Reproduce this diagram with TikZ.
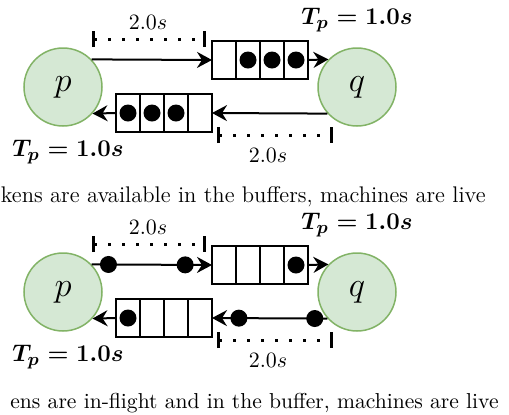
\documentclass[tikz,border=0pt]{standalone}
\usepackage{tikz}
\usetikzlibrary{shapes,arrows.meta,positioning,fit,backgrounds}
\usepackage{xcolor}
\usepackage{amsmath}
\usepackage{amssymb}
\definecolor{machinefill}{RGB}{213,232,212}
\definecolor{machineline}{RGB}{130,179,102}

\begin{document}
\begin{tikzpicture}[
    x=0.5pt, y=-0.5pt,
    machine/.style={circle, draw=machineline, fill=machinefill, line width=0.75pt, minimum size=39pt, inner sep=0pt, font=\fontsize{16}{18}\selectfont},
    cell/.style={rectangle, draw, line width=1pt, minimum width=12pt, minimum height=19pt, inner sep=0pt, outer sep=0pt},
    token/.style={circle, fill=black, minimum size=8.5pt, inner sep=0pt},
    arrow/.style={-{Stealth[length=7.5pt, width=8pt, inset=2.5pt]}, line width=1pt},
    span/.style={{Bar[width=8pt]}-{Bar[width=8pt]}, line width=1.5pt, dash pattern=on 1.5pt off 5.5pt},
    delay/.style={font=\fontsize{11}{13}\selectfont},
    period/.style={font=\fontsize{13}{15}\selectfont\boldmath},
    caption/.style={font=\fontsize{10.8}{13}\selectfont, anchor=base east, inner sep=0pt}
]
\useasboundingbox (0,0) rectangle (509,414);

% tokens waiting in the buffers
\node[machine] (pA) at (63,87) {$p$};
\node[machine] (qA) at (357,87) {$q$};
\foreach \i in {1,...,4} {
    \node[cell] (outA-\i) at (200+24*\i,60) {};
    \node[cell] (retA-\i) at (104+24*\i,113) {};
}
\foreach \i in {2,3,4} \node[token] (tokA-\i) at (outA-\i) {};
\foreach \i in {1,2,3} \node[token] (tikA-\i) at (retA-\i) {};

\draw[arrow] (pA.44) -- (outA-1.west);
\draw[arrow] (outA-4.east) -- (qA.136);
\draw[arrow] (qA.222) -- (retA-4.east);
\draw[arrow] (retA-1.west) -- (pA.318);

\coordinate (dA1) at (92,39);
\coordinate (dA2) at (206,39);
\coordinate (dA3) at (217,135);
\coordinate (dA4) at (333,135);
\draw[span] (dA1) -- (dA2);
\draw[span] (dA3) -- (dA4);
\node[delay] (delA1) at (148,22) {$2.0s$};
\node[delay] (delA2) at (268,155) {$2.0s$};
\node[period] (perA1) at (357,20) {$T_p = 1.0s$};
\node[period] (perA2) at (68,152) {$T_p = 1.0s$};
\node[caption, font=\fontsize{11.3}{13}\selectfont] (capA) at (486,202) {kens are available in the buffers, machines are live};

% tokens in flight
\begin{scope}[shift={(0,205)}]
\node[machine] (pB) at (63,87) {$p$};
\node[machine] (qB) at (357,87) {$q$};
\foreach \i in {1,...,4} {
    \node[cell] (outB-\i) at (200+24*\i,60) {};
    \node[cell] (retB-\i) at (104+24*\i,113) {};
}
\node[token] (tokB-4) at (outB-4) {};
\node[token] (tikB-1) at (retB-1) {};

\draw[arrow] (pB.44) -- node[token, pos=0.14] (flyB1) {} node[token, pos=0.777] (flyB2) {} (outB-1.west);
\draw[arrow] (outB-4.east) -- (qB.136);
\draw[arrow] (qB.222) -- node[token, pos=0.11] (flyB3) {} node[token, pos=0.767] (flyB4) {} (retB-4.east);
\draw[arrow] (retB-1.west) -- (pB.318);

\coordinate (dB1) at (92,39);
\coordinate (dB2) at (206,39);
\coordinate (dB3) at (217,135);
\coordinate (dB4) at (333,135);
\draw[span] (dB1) -- (dB2);
\draw[span] (dB3) -- (dB4);
\node[delay] (delB1) at (148,22) {$2.0s$};
\node[delay] (delB2) at (268,155) {$2.0s$};
\node[period] (perB1) at (357,20) {$T_p = 1.0s$};
\node[period] (perB2) at (68,152) {$T_p = 1.0s$};
\node[caption] (capB) at (499,203) {ens are in-flight and in the buffer, machines are live};
\end{scope}
\end{tikzpicture}
\end{document}
